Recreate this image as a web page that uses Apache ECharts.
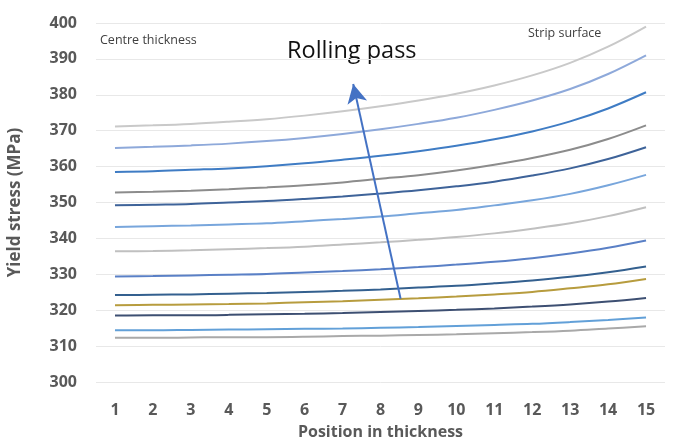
<!DOCTYPE html>
<html>
<head>
<meta charset="utf-8">
<script src="https://cdn.jsdelivr.net/npm/echarts@6/dist/echarts.min.js"></script>
<style>html,body{margin:0;padding:0;background:#fff}#c{width:673px;height:439px}</style>
</head>
<body>
<div id="c"></div>
<script>
const categories = ['1','2','3','4','5','6','7','8','9','10','11','12','13','14','15'];
const yTicks = [300, 400, 10];

const pass13 = [371.2, 371.5, 371.9, 372.5, 373.2, 374.2, 375.4, 376.8, 378.4, 380.3, 382.6, 385.4, 388.9, 393.4, 399.0];
const pass12 = [365.2, 365.5, 365.9, 366.4, 367.1, 368.0, 369.1, 370.4, 371.9, 373.6, 375.8, 378.4, 381.6, 385.8, 391.0];
const pass11 = [358.5, 358.7, 359.1, 359.5, 360.1, 360.9, 361.9, 363.0, 364.3, 365.8, 367.6, 369.8, 372.6, 376.2, 380.7];
const pass10 = [352.8, 353.0, 353.3, 353.7, 354.2, 354.8, 355.6, 356.6, 357.6, 358.9, 360.5, 362.4, 364.7, 367.7, 371.5];
const pass9  = [349.2, 349.4, 349.6, 350.0, 350.4, 351.0, 351.7, 352.5, 353.4, 354.5, 355.8, 357.5, 359.5, 362.1, 365.4];
const pass8  = [343.2, 343.4, 343.6, 343.9, 344.2, 344.8, 345.4, 346.1, 347.0, 347.9, 349.2, 350.6, 352.4, 354.8, 357.7];
const pass7  = [336.4, 336.5, 336.7, 337.0, 337.3, 337.7, 338.3, 338.9, 339.6, 340.4, 341.4, 342.7, 344.2, 346.2, 348.7];
const pass6  = [329.4, 329.5, 329.7, 329.9, 330.1, 330.5, 330.9, 331.4, 332.0, 332.7, 333.5, 334.5, 335.8, 337.4, 339.4];
const pass5  = [324.2, 324.3, 324.4, 324.6, 324.8, 325.1, 325.4, 325.8, 326.3, 326.8, 327.5, 328.3, 329.3, 330.6, 332.2];
const pass4  = [321.4, 321.5, 321.6, 321.7, 321.9, 322.2, 322.5, 322.9, 323.3, 323.8, 324.4, 325.1, 326.1, 327.2, 328.7];
const pass3  = [318.5, 318.6, 318.6, 318.7, 318.9, 319.0, 319.2, 319.5, 319.8, 320.1, 320.5, 321.0, 321.6, 322.4, 323.4];
const pass2  = [314.4, 314.4, 314.5, 314.6, 314.7, 314.8, 314.9, 315.1, 315.3, 315.6, 315.9, 316.2, 316.7, 317.3, 318.0];
const pass1  = [312.3, 312.3, 312.4, 312.5, 312.5, 312.6, 312.8, 312.9, 313.1, 313.3, 313.6, 313.9, 314.3, 314.9, 315.5];

const seriesData = [pass13, pass12, pass11, pass10, pass9, pass8, pass7, pass6, pass5, pass4, pass3, pass2, pass1];
const seriesColors = ['#c9c9c9', '#8ea9da', '#3f7cc4', '#8c8c8c', '#3e6399', '#78a6dc', '#c0c0c0', '#5a80c6', '#34608f', '#b79c3e', '#3d4f72', '#62a0d8', '#a9a9a9'];

// arrow annotation (position-in-thickness, yield stress)
const arrowFrom = [8.53, 323.2];
const arrowTo = [7.28, 383.0];

const font = '"Open Sans", "Liberation Sans", sans-serif';
const chart = echarts.init(document.getElementById('c'));

const series = seriesData.map((d, i) => ({
  type: 'line',
  data: d,
  smooth: 0.35,
  showSymbol: false,
  symbol: 'none',
  lineStyle: { width: 2, color: seriesColors[i] },
  itemStyle: { color: seriesColors[i] },
  z: 3
}));

series.push({
  type: 'line',
  xAxisIndex: 1,
  data: [],
  markLine: {
    silent: true,
    symbol: ['none', 'arrow'],
    symbolSize: [15, 19],
    label: { show: false },
    lineStyle: { color: '#4472c4', width: 2, type: 'solid' },
    data: [[{ coord: arrowFrom }, { coord: arrowTo }]]
  },
  z: 5
});

chart.setOption({
  animation: false,
  backgroundColor: '#fff',
  grid: { left: 96, right: 8, top: 23, bottom: 57, containLabel: false, outerBoundsMode: 'none' },
  xAxis: [{
    type: 'category',
    data: categories,
    boundaryGap: true,
    axisLine: { show: false },
    axisTick: { show: false },
    axisLabel: { color: '#595959', fontSize: 16, fontWeight: 'bold', fontFamily: font, margin: 20 },
    name: 'Position in thickness',
    nameLocation: 'middle',
    nameGap: 42,
    nameTextStyle: { color: '#595959', fontSize: 16, fontWeight: 'bold', fontFamily: font }
  }, {
    type: 'value',
    min: 0.5,
    max: 15.5,
    show: false
  }],
  yAxis: {
    type: 'value',
    min: yTicks[0],
    max: yTicks[1],
    interval: yTicks[2],
    axisLine: { show: false },
    axisTick: { show: false },
    splitLine: { lineStyle: { color: '#e8e8e8', width: 1 } },
    axisLabel: { color: '#595959', fontSize: 16, fontWeight: 'bold', fontFamily: font, margin: 19 },
    name: 'Yield stress (MPa)',
    nameLocation: 'middle',
    nameGap: 72,
    nameTextStyle: { color: '#595959', fontSize: 17, fontWeight: 'bold', fontFamily: font }
  },
  graphic: [
    { type: 'text', left: 100, top: 34, style: { text: 'Centre thickness', fill: '#404040', font: '12.5px ' + font } },
    { type: 'text', left: 528, top: 27, style: { text: 'Strip surface', fill: '#404040', font: '12.5px ' + font } },
    { type: 'text', left: 287, top: 39, style: { text: 'Rolling pass', fill: '#111', font: '23.5px ' + font } }
  ],
  series: series
});
</script>
</body>
</html>
